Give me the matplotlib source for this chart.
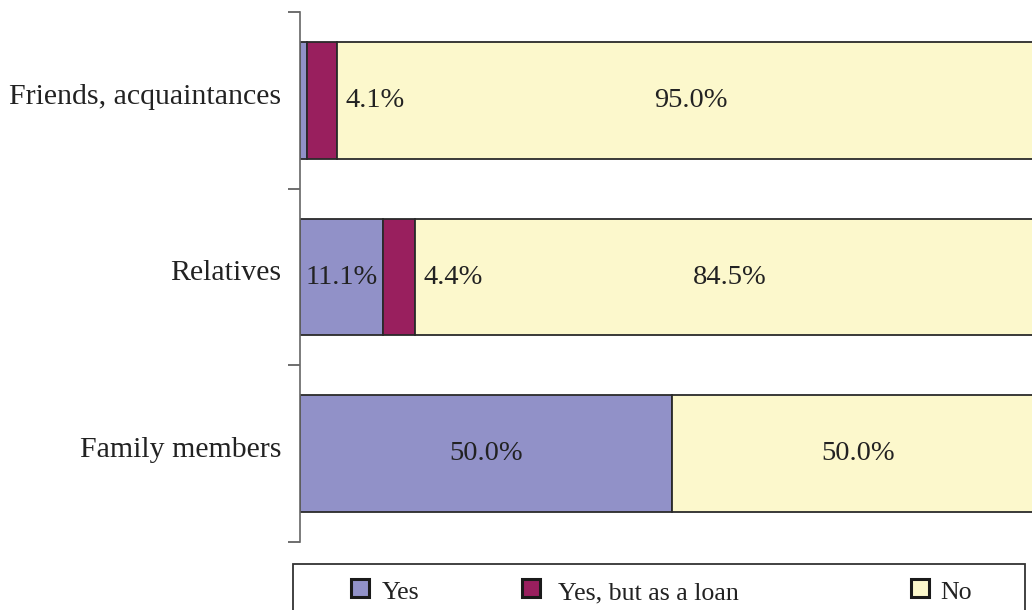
import matplotlib.pyplot as plt
from matplotlib.patches import Rectangle

plt.rcParams['font.family'] = ['Liberation Serif', 'DejaVu Serif']

# survey answers, bottom to top
categories = ['Family members', 'Relatives', 'Friends, acquaintances']
yes = [50.0, 11.1, 0.9]
loan = [0.0, 4.4, 4.1]
no = [50.0, 84.5, 95.0]

series_names = ['Yes', 'Yes, but as a loan', 'No']
colors = ['#9191c8', '#991f5e', '#fcf8cc']
edge = '#2a2a2a'

W, H = 1032, 610
fig = plt.figure(figsize=(W / 100, H / 100), dpi=100)
# the plot area runs a little past the right edge of the figure
ax = fig.add_axes([300 / W, 1 - 542 / H, (1044 - 300) / W, (542 - 12) / H])

ypos = list(range(len(categories)))
bar_h = 0.66
left = [0.0] * len(categories)
for vals, c in zip([yes, loan, no], colors):
    ax.barh(ypos, vals, left=left, height=bar_h, color=c,
            edgecolor=edge, linewidth=1.3)
    left = [l + v for l, v in zip(left, vals)]

# value labels: centred in the segment, the thin loan segments get theirs to the right
fs = 20.5
for i in ypos:
    if yes[i] >= 5:
        ax.text(yes[i] / 2, i, f'{yes[i]:.1f}%', ha='center', va='center', fontsize=fs, color='#222222')
    if loan[i] > 0:
        ax.text(yes[i] + loan[i] + 1.1, i, f'{loan[i]:.1f}%', ha='left', va='center', fontsize=fs, color='#222222')
    start = yes[i] + loan[i]
    ax.text(start + no[i] / 2, i, f'{no[i]:.1f}%', ha='center', va='center', fontsize=fs, color='#222222')

ax.set_xlim(0, 100)
ax.set_ylim(-0.5, len(categories) - 0.5)
ax.set_xticks([])
ax.set_yticks([y - 0.5 for y in range(len(categories) + 1)])
ax.set_yticklabels([])
ax.tick_params(axis='y', direction='out', length=9, width=1.2, color='#555555')
for y, name in zip(ypos, categories):
    ax.text(-19 / 744, y + 0.02, name, transform=ax.get_yaxis_transform(),
            ha='right', va='center', fontsize=21.5, color='#222222')
for s in ['top', 'right', 'bottom']:
    ax.spines[s].set_visible(False)
ax.spines['left'].set_color('#666666')
ax.spines['left'].set_linewidth(1.2)

# legend box along the bottom
def fx(px):
    return px / W

def fy(py):
    return 1 - py / H

fig.patches.append(Rectangle((fx(293), fy(620)), fx(1025) - fx(293), fy(564) - fy(620),
                             transform=fig.transFigure, facecolor='white',
                             edgecolor='#333333', linewidth=1.3))
marker_x = [350, 521, 910]
text_x = [382, 558, 940]
for mx, tx, name, c in zip(marker_x, text_x, series_names, colors):
    fig.patches.append(Rectangle((fx(mx + 1), fy(597)), fx(18), 18 / H,
                                 transform=fig.transFigure, facecolor=c,
                                 edgecolor='#1a1a1a', linewidth=2.2))
    fig.text(fx(tx), fy(593), name, ha='left', va='center', fontsize=18.6, color='#222222')

fig.savefig('out.png', dpi=100)
